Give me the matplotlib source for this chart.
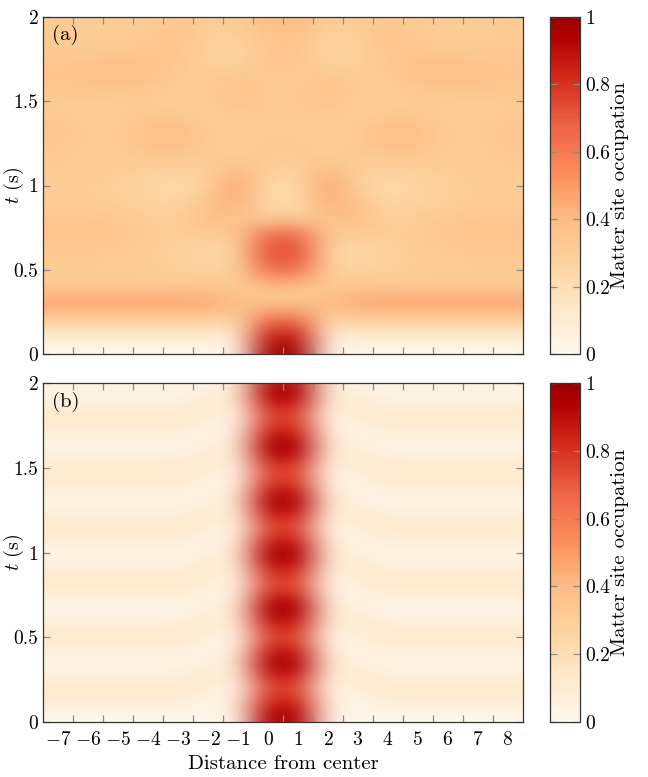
import matplotlib
matplotlib.use("Agg")
import matplotlib.pyplot as plt
import numpy as np
from matplotlib.colors import ListedColormap

plt.rcParams["font.family"] = "serif"
plt.rcParams["font.serif"] = ["cmr10"]
plt.rcParams["mathtext.fontset"] = "cm"
plt.rcParams["axes.formatter.use_mathtext"] = True

# sites and time grids
sites = list(range(-7, 9))
t_a = np.linspace(0, 2, 21)
t_b = np.linspace(0, 2, 41)

# panel (a): occupation of sites 1..8 (sites 0..-7 are the mirror images)
a_x1 = [1.00, 0.88, 0.65, 0.33, 0.36, 0.65, 0.73, 0.68, 0.30, 0.23, 0.24, 0.30, 0.33, 0.32, 0.32, 0.33, 0.32, 0.34, 0.35, 0.37, 0.40]
a_x2 = [0.00, 0.08, 0.26, 0.40, 0.32, 0.29, 0.27, 0.31, 0.37, 0.44, 0.47, 0.38, 0.31, 0.30, 0.33, 0.37, 0.37, 0.30, 0.26, 0.29, 0.32]
a_x3 = [0.00, 0.08, 0.28, 0.46, 0.33, 0.27, 0.22, 0.32, 0.38, 0.36, 0.28, 0.30, 0.32, 0.33, 0.30, 0.31, 0.32, 0.30, 0.28, 0.30, 0.31]
a_x4 = [0.00, 0.08, 0.28, 0.47, 0.33, 0.30, 0.29, 0.30, 0.30, 0.25, 0.22, 0.29, 0.36, 0.40, 0.34, 0.30, 0.31, 0.33, 0.36, 0.36, 0.35]
a_x5 = [0.00, 0.08, 0.28, 0.47, 0.32, 0.31, 0.31, 0.32, 0.31, 0.28, 0.26, 0.30, 0.35, 0.38, 0.34, 0.31, 0.36, 0.38, 0.34, 0.32, 0.32]
a_x6 = [0.00, 0.08, 0.28, 0.47, 0.32, 0.31, 0.32, 0.35, 0.33, 0.30, 0.30, 0.31, 0.31, 0.32, 0.31, 0.32, 0.37, 0.38, 0.33, 0.31, 0.31]
a_x7 = [0.00, 0.08, 0.28, 0.47, 0.32, 0.32, 0.33, 0.36, 0.34, 0.31, 0.31, 0.32, 0.31, 0.32, 0.31, 0.31, 0.37, 0.37, 0.32, 0.31, 0.32]
a_x8 = [0.00, 0.08, 0.28, 0.47, 0.32, 0.32, 0.33, 0.36, 0.34, 0.31, 0.31, 0.32, 0.33, 0.35, 0.33, 0.31, 0.36, 0.35, 0.33, 0.32, 0.33]

# panel (b): occupation of sites 1..8
b_x1 = [0.96, 0.94, 0.88, 0.81, 0.78, 0.83, 0.91, 0.95, 0.91, 0.83, 0.78, 0.82, 0.90, 0.95, 0.93, 0.85, 0.78, 0.79, 0.85, 0.93,
        0.95, 0.90, 0.82, 0.78, 0.83, 0.91, 0.95, 0.91, 0.83, 0.78, 0.79, 0.87, 0.94, 0.94, 0.88, 0.81, 0.78, 0.83, 0.91, 0.95, 0.91]
b_x2 = [0.00, 0.05, 0.07, 0.03, 0.02, 0.04, 0.08, 0.10, 0.08, 0.04, 0.02, 0.04, 0.08, 0.10, 0.09, 0.05, 0.02, 0.02, 0.05, 0.09,
        0.10, 0.08, 0.04, 0.02, 0.04, 0.08, 0.10, 0.08, 0.04, 0.02, 0.03, 0.06, 0.09, 0.10, 0.07, 0.03, 0.02, 0.04, 0.08, 0.10, 0.08]
b_x3 = [0.00, 0.01, 0.02, 0.04, 0.08, 0.11, 0.10, 0.07, 0.04, 0.04, 0.07, 0.10, 0.11, 0.08, 0.05, 0.04, 0.06, 0.10, 0.12, 0.10,
        0.06, 0.04, 0.05, 0.08, 0.11, 0.10, 0.07, 0.04, 0.04, 0.07, 0.10, 0.11, 0.09, 0.06, 0.04, 0.05, 0.09, 0.11, 0.10, 0.07, 0.04]
b_far = [0.00, 0.02, 0.06, 0.11, 0.12, 0.09, 0.05, 0.03, 0.05, 0.09, 0.12, 0.10, 0.06, 0.03, 0.04, 0.08, 0.12, 0.12, 0.08, 0.04,
         0.03, 0.06, 0.10, 0.12, 0.09, 0.05, 0.03, 0.05, 0.09, 0.12, 0.11, 0.08, 0.04, 0.03, 0.07, 0.11, 0.12, 0.09, 0.05, 0.03, 0.05]

cbar_ticks = [0, 0.2, 0.4, 0.6, 0.8, 1]
cbar_labels = ["0", "0.2", "0.4", "0.6", "0.8", "1"]
t_ticks = [0, 0.5, 1, 1.5, 2]
t_labels = ["0", "0.5", "1", "1.5", "2"]


def full_grid(right_cols):
    # right_cols are sites 1..8, the chain is mirror symmetric about 0.5
    right = np.column_stack(right_cols)
    return np.hstack([right[:, ::-1], right])


occ_a = full_grid([a_x1, a_x2, a_x3, a_x4, a_x5, a_x6, a_x7, a_x8])
occ_b = full_grid([b_x1, b_x2, b_x3, b_far, b_far, b_far, b_far, b_far])

# OrRd with a slightly lighter dark end, like the reference colour bar
cmap = ListedColormap(plt.get_cmap("OrRd")(np.linspace(0, 0.93, 256)))

fig = plt.figure(figsize=(6.48, 7.77), dpi=100)
ax_a = fig.add_axes([0.0668, 0.544, 0.7398, 0.4345])
ax_b = fig.add_axes([0.0668, 0.0712, 0.7398, 0.4353])
cax_a = fig.add_axes([0.8495, 0.544, 0.0455, 0.4345])
cax_b = fig.add_axes([0.8495, 0.0712, 0.0455, 0.4353])

for ax, cax, occ, t, tag in [(ax_a, cax_a, occ_a, t_a, "(a)"), (ax_b, cax_b, occ_b, t_b, "(b)")]:
    dt = t[1] - t[0]
    im = ax.imshow(occ, origin="lower", aspect="auto", cmap=cmap, vmin=0, vmax=1,
                   extent=(sites[0] - 0.5, sites[-1] + 0.5, t[0] - dt / 2, t[-1] + dt / 2),
                   interpolation="bicubic", interpolation_stage="rgba")
    ax.set_xlim(sites[0] - 0.5, sites[-1] + 0.5)
    ax.set_ylim(0, 2)
    ax.set_xticks(sites)
    ax.set_xticklabels([f"${s}$" for s in sites])
    ax.set_xticks(np.array(sites[:-1]) + 0.5, minor=True)
    ax.tick_params(axis="x", which="major", length=0, labelsize=14, pad=7)
    ax.tick_params(axis="x", which="minor", direction="in", length=5, color="0.55",
                   top=True, bottom=True, width=0.9)
    ax.set_yticks(t_ticks)
    ax.set_yticklabels(t_labels)
    ax.tick_params(axis="y", direction="in", length=5, color="0.55", left=True, right=True,
                   labelsize=14, width=0.9)
    ax.set_ylabel(r"$t$ (s)", fontsize=14.5)
    ax.yaxis.set_label_coords(-0.036, 0.5)
    for sp in ax.spines.values():
        sp.set_color("0.2")
        sp.set_linewidth(0.9)
    ax.text(0.018, 0.975, tag, transform=ax.transAxes, ha="left", va="top", fontsize=15)

    cb = fig.colorbar(im, cax=cax)
    cb.set_ticks(cbar_ticks)
    cb.set_ticklabels(cbar_labels)
    cb.ax.tick_params(direction="in", length=5, color="0.55", left=True, right=True,
                      labelsize=14, width=0.9)
    cb.outline.set_edgecolor("0.2")
    cb.outline.set_linewidth(0.9)
    cb.set_label("Matter site occupation", fontsize=15)
    cb.ax.yaxis.set_label_coords(2.06, 0.5)

ax_a.tick_params(axis="x", which="major", labelbottom=False)
ax_b.set_xlabel("Distance from center", fontsize=15)

fig.savefig("out.png", dpi=100)
